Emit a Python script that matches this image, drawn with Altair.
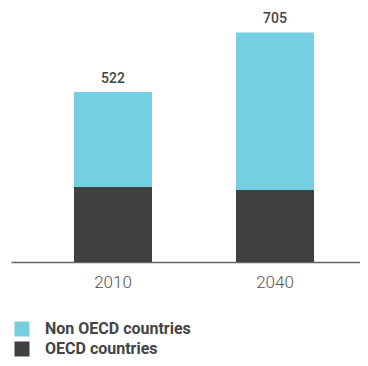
import altair as alt
import pandas as pd

years = ["2010", "2040"]
oecd = [230, 221]
non_oecd = [292, 484]
totals = [522, 705]
series = ["Non OECD countries", "OECD countries"]
colors = ["#76CFE0", "#404040"]

rows = []
for i, y in enumerate(years):
    rows.append({"year": y, "group": "OECD countries", "value": oecd[i], "ord": 0})
    rows.append({"year": y, "group": "Non OECD countries", "value": non_oecd[i], "ord": 1})
df = pd.DataFrame(rows)
tot = pd.DataFrame({"year": years, "total": totals})

xscale = alt.Scale(paddingInner=0.5185, paddingOuter=0.3364, align=0.578)
yscale = alt.Scale(domain=[0, 780], nice=False)

x = alt.X("year:N", title=None, scale=xscale,
          axis=alt.Axis(labelAngle=0, ticks=False, domainColor="#666666", domainWidth=1.5,
                        labelFont="Roboto", labelFontSize=17, labelFontWeight=300,
                        labelColor="#555555", labelPadding=12, grid=False))

bars = alt.Chart(df).mark_bar().encode(
    x=x,
    y=alt.Y("value:Q", stack="zero", scale=yscale, axis=None),
    color=alt.Color("group:N", scale=alt.Scale(domain=series, range=colors),
                    legend=alt.Legend(title=None, orient="none", legendX=3, legendY=313,
                                      symbolType="square", symbolSize=225, symbolStrokeWidth=0,
                                      labelFont="Roboto", labelFontSize=16, labelFontWeight="bold",
                                      labelColor="#444444", labelOffset=15, rowPadding=4,
                                      symbolOpacity=1)),
    order=alt.Order("ord:Q"),
)

labels = alt.Chart(tot).mark_text(font="Roboto", fontSize=14, fontWeight=500,
                                  color="#444444", baseline="alphabetic", dy=-9).encode(
    x=x,
    y=alt.Y("total:Q", scale=yscale, axis=None),
    text=alt.Text("total:Q"),
)

chart = alt.layer(bars, labels).properties(
    width=349, height=254,
    autosize=alt.AutoSizeParams(type="none"),
    padding={"left": 3, "right": 0, "top": 0, "bottom": 96},
).configure(background="#ffffff").configure_view(stroke=None, strokeWidth=0)

chart.save("out.html", embed_options={"renderer": "svg", "actions": False})
